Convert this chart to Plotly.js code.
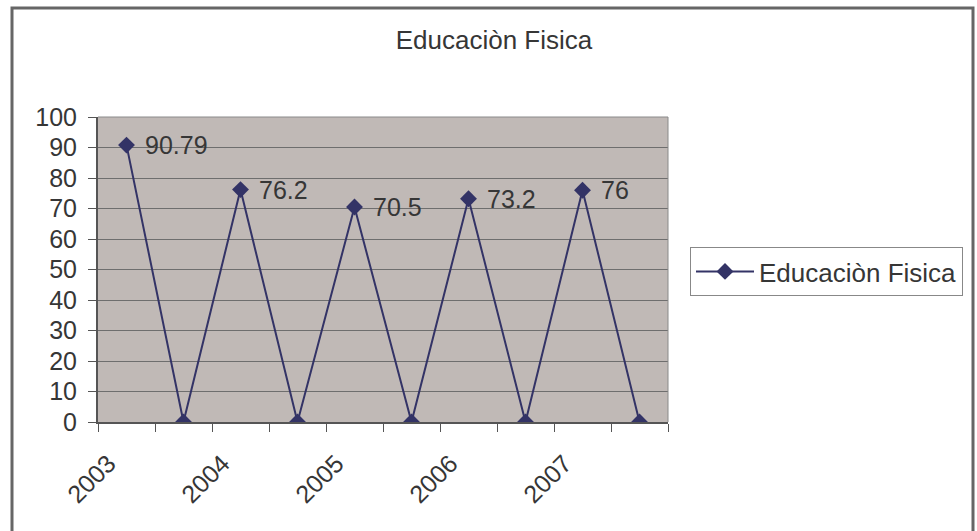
<!DOCTYPE html>
<html>
<head>
<meta charset="utf-8">
<script src="https://cdn.plot.ly/plotly-3.0.1.min.js"></script>
<style>html,body{margin:0;padding:0;background:#fff;}#chart{width:977px;height:531px;}</style>
</head>
<body>
<div id="chart"></div>
<script>
const seriesName = "Educaciòn Fisica";
const categories = [0,1,2,3,4,5,6,7,8,9];
const values = [90.79, 0, 76.2, 0, 70.5, 0, 73.2, 0, 76, 0];
const labelTexts = ["90.79", "", "76.2", "", "70.5", "", "73.2", "", "76", ""];
const tickPositions = [0, 2, 4, 6, 8];
const tickLabels = ["2003", "2004", "2005", "2006", "2007"];

const font = "Liberation Sans, Arial, sans-serif";
const textColor = "#363636";
const navy = "#333366";

const trace = {
  x: categories, y: values, type: "scatter", mode: "lines+markers", name: seriesName,
  line: {color: navy, width: 2},
  marker: {symbol: "diamond", size: 13, color: navy}
};

const annotations = categories.filter((c, i) => labelTexts[i] !== "").map(c => ({
  x: c, y: values[c], text: labelTexts[c], xref: "x", yref: "y",
  xanchor: "left", yanchor: "middle", xshift: 16, showarrow: false,
  font: {family: font, size: 25, color: textColor}
}));

const L = 98, R = 668, T = 117, B = 422, W = 977, H = 531;
const px = v => (v - L) / (R - L);
const py = v => (B - v) / (B - T);

const layout = {
  width: W, height: H,
  margin: {l: L, r: W - R, t: T, b: H - B, pad: 0},
  paper_bgcolor: "#ffffff", plot_bgcolor: "#c0b9b6",
  font: {family: font, color: textColor, size: 25},
  showlegend: true,
  title: {text: seriesName, font: {family: font, size: 26, color: textColor},
          xref: "container", yref: "container", x: 494 / W, y: 1 - 40 / H, xanchor: "center", yanchor: "middle"},
  xaxis: {
    range: [-0.5, 9.5], tickmode: "array", tickvals: tickPositions, ticktext: tickLabels,
    ticks: "", tickangle: -45, showgrid: false, zeroline: false,
    showline: true, linecolor: "#555555", linewidth: 2, mirror: false,
    tickfont: {family: font, size: 25, color: textColor},
    ticklabelstandoff: 15, ticklabelshift: -18,
    minor: {tick0: -0.5, dtick: 1, ticks: "outside", ticklen: 8, tickcolor: "#555555", tickwidth: 1, showgrid: false}
  },
  yaxis: {
    range: [0, 100], tickmode: "linear", tick0: 0, dtick: 10,
    ticks: "outside", ticklen: 8, tickcolor: "#555555", tickwidth: 1,
    showgrid: true, gridcolor: "#6e6e6e", gridwidth: 1, zeroline: false,
    showline: true, linecolor: "#555555", linewidth: 2,
    tickfont: {family: font, size: 25, color: textColor},
    ticklabelstandoff: 6
  },
  legend: {
    x: px(690), y: py(247), xanchor: "left", yanchor: "top",
    bgcolor: "#ffffff", bordercolor: "#888888", borderwidth: 1,
    itemwidth: 58,
    font: {family: font, size: 26, color: textColor}
  },
  annotations: annotations,
  shapes: [
    {type: "rect", xref: "paper", yref: "paper", x0: px(12), x1: px(973), y0: py(545), y1: py(8),
     line: {color: "#666666", width: 3}, fillcolor: "rgba(0,0,0,0)", layer: "below"},
    {type: "line", xref: "paper", yref: "paper", x0: 1, x1: 1, y0: 0, y1: 1,
     line: {color: "#8a8a8a", width: 1}},
    {type: "line", xref: "paper", yref: "paper", x0: 0, x1: 1, y0: 1, y1: 1,
     line: {color: "#8a8a8a", width: 1}}
  ]
};

Plotly.newPlot("chart", [trace], layout, {displayModeBar: false, staticPlot: true});
</script>
</body>
</html>
